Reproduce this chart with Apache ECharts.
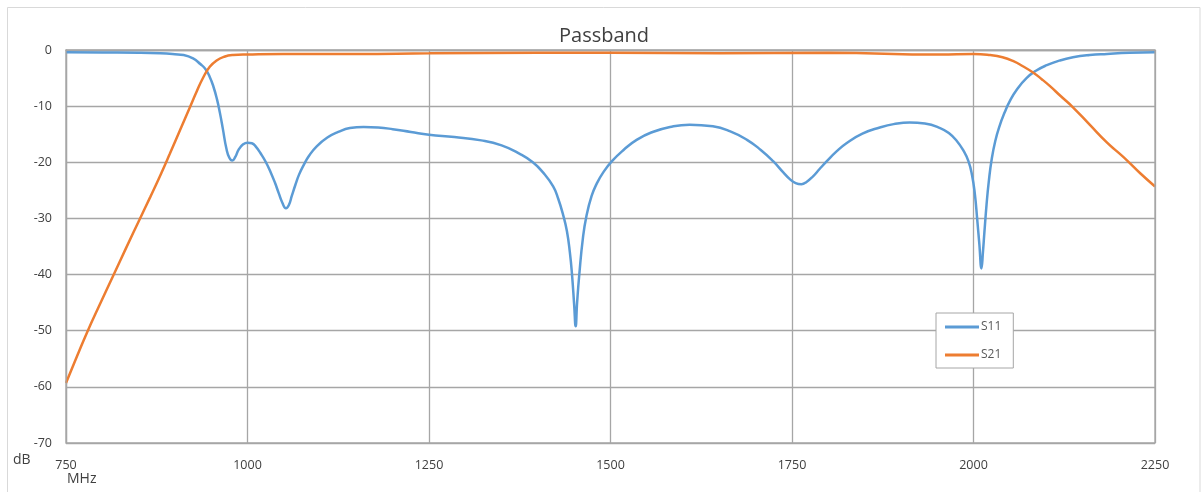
<!DOCTYPE html>
<html>
<head>
<meta charset="utf-8">
<script src="https://cdn.jsdelivr.net/npm/echarts@6/dist/echarts.min.js"></script>
<style>
html,body{margin:0;padding:0;background:#fff;}
#c{width:1204px;height:492px;}
</style>
</head>
<body>
<div id="c"></div>
<script>
// ---- data ----
var title = 'Passband';
var xTicks = [750, 1000, 1250, 1500, 1750, 2000, 2250];
var yTicks = [0, -10, -20, -30, -40, -50, -60, -70];

var s11Freq = [750, 800, 850, 880, 900, 912, 925, 935, 942, 948, 953, 958, 962, 966, 971, 975, 979, 983, 988, 994, 1000, 1006, 1012, 1018, 1025, 1032, 1038, 1043, 1048, 1053, 1057, 1061, 1066, 1071, 1077, 1085, 1095, 1110, 1125, 1141, 1160, 1180, 1200, 1225, 1250, 1285, 1322, 1350, 1375, 1393, 1407, 1421, 1428, 1435, 1440, 1444, 1447, 1450, 1452, 1454, 1457, 1462, 1467, 1474, 1481, 1490, 1502, 1518, 1536, 1558, 1582, 1609, 1641, 1665, 1688, 1707, 1724, 1738, 1747, 1755, 1763, 1770, 1779, 1788, 1798, 1811, 1825, 1847, 1871, 1890, 1912, 1933, 1954, 1966, 1977, 1986, 1993, 1998, 2002, 2005, 2008, 2011, 2013, 2015, 2018, 2021, 2025, 2030, 2036, 2043, 2050, 2060, 2073, 2086, 2101, 2118, 2137, 2160, 2184, 2215, 2250];
var s11Db   = [-0.4, -0.45, -0.5, -0.6, -0.75, -0.9, -1.5, -2.5, -3.4, -4.8, -6.5, -8.8, -11.2, -14.0, -17.6, -19.2, -19.7, -19.1, -17.7, -16.8, -16.5, -16.6, -17.3, -18.4, -19.9, -21.8, -23.7, -25.5, -27.2, -28.2, -27.6, -26.0, -24.0, -22.2, -20.6, -18.8, -17.2, -15.6, -14.6, -13.9, -13.7, -13.8, -14.1, -14.6, -15.1, -15.5, -16.1, -17.0, -18.5, -20.0, -21.8, -24.3, -26.5, -29.5, -32.3, -36.0, -40.0, -45.5, -49.2, -45.0, -40.0, -33.5, -29.5, -26.0, -23.8, -21.8, -19.8, -17.8, -16.0, -14.6, -13.7, -13.3, -13.6, -14.5, -16.0, -17.8, -19.8, -21.8, -23.0, -23.7, -23.9, -23.5, -22.5, -21.2, -19.8, -18.1, -16.6, -14.9, -13.8, -13.2, -12.9, -13.1, -13.9, -14.8, -16.2, -17.9, -19.8, -22.3, -25.8, -30.0, -34.5, -38.9, -36.0, -32.5, -27.5, -23.5, -19.5, -16.2, -13.5, -11.1, -9.1, -7.0, -5.0, -3.7, -2.7, -1.9, -1.3, -0.9, -0.7, -0.5, -0.4];

var s21Freq = [750, 765, 779, 797, 815, 833, 852, 866, 880, 893, 907, 921, 930, 939, 948, 957, 968, 980, 1000, 1049, 1150, 1250, 1400, 1500, 1650, 1800, 1954, 2000, 2023, 2040, 2055, 2068, 2082, 2094, 2105, 2120, 2137, 2160, 2184, 2198, 2211, 2230, 2250];
var s21Db   = [-59.3, -54.6, -50.3, -45.2, -40.2, -35.2, -30.0, -26.2, -22.3, -18.5, -14.3, -10.1, -7.4, -4.9, -3.0, -1.9, -1.2, -0.9, -0.8, -0.7, -0.7, -0.6, -0.5, -0.5, -0.6, -0.5, -0.8, -0.7, -0.9, -1.3, -2.0, -2.9, -4.0, -5.2, -6.4, -8.2, -10.2, -13.3, -16.5, -18.1, -19.6, -22.0, -24.3];

var seriesNames = ['S11', 'S21'];
var seriesColors = ['#5B9BD5', '#ED7D31'];

function pairs(xs, ys){ return xs.map(function(x,i){ return [x, ys[i]]; }); }

var chart = echarts.init(document.getElementById('c'), null, {renderer:'canvas'});
var txt = '#404040';
var gridCol = '#a6a6a6';
chart.setOption({
  animation:false,
  backgroundColor:'#ffffff',
  title:{
    text:title, left:554, top:21,
    textStyle:{fontFamily:'Open Sans', fontSize:20, fontWeight:'normal', color:'#404040'}
  },
  grid:{left:66, right:49, top:50, bottom:49, containLabel:false},
  legend:{
    orient:'vertical', left:936, top:313, itemGap:16,
    itemWidth:34, itemHeight:3, icon:'rect',
    backgroundColor:'#fff', borderColor:'#a6a6a6', borderWidth:1,
    padding:[8,12,7,9],
    textStyle:{fontFamily:'Open Sans', fontSize:12, color:'#595959', padding:[0,0,0,-3]},
    data:seriesNames
  },
  xAxis:{
    type:'value', min:750, max:2250, interval:250,
    axisLine:{show:true, lineStyle:{color:gridCol, width:1.3}},
    axisTick:{show:false},
    splitLine:{show:true, lineStyle:{color:gridCol, width:1.3}},
    axisLabel:{color:txt, fontFamily:'Open Sans', fontSize:12.5, margin:16,
      formatter:function(v){ return xTicks.indexOf(v)>=0 ? String(v) : ''; }}
  },
  yAxis:{
    type:'value', min:-70, max:0, interval:10,
    axisLine:{show:true, lineStyle:{color:gridCol, width:1.3}},
    axisTick:{show:false},
    splitLine:{show:true, lineStyle:{color:gridCol, width:1.3}},
    axisLabel:{color:txt, fontFamily:'Open Sans', fontSize:12.5, margin:14,
      formatter:function(v){ return yTicks.indexOf(v)>=0 ? String(v) : ''; }}
  },
  graphic:[
    {type:'rect', shape:{x:7.5, y:7.5, width:1192.5, height:490}, style:{fill:null, stroke:'#d9d9d9', lineWidth:1}, silent:true, z:-1},
    {type:'rect', shape:{x:66, y:50, width:1089, height:393}, style:{fill:null, stroke:gridCol, lineWidth:1.3}, silent:true, z:10},
    {type:'text', left:13, top:453, style:{text:'dB', fontFamily:'Open Sans', fontSize:14, fill:txt}},
    {type:'text', left:67, top:472, style:{text:'MHz', fontFamily:'Open Sans', fontSize:14, fill:txt}}
  ],
  series:[
    {name:seriesNames[0], type:'line', data:pairs(s11Freq, s11Db), smooth:0.5, showSymbol:false,
     lineStyle:{color:seriesColors[0], width:2.5}, itemStyle:{color:seriesColors[0]}, z:3},
    {name:seriesNames[1], type:'line', data:pairs(s21Freq, s21Db), smooth:0.5, showSymbol:false,
     lineStyle:{color:seriesColors[1], width:2.5}, itemStyle:{color:seriesColors[1]}, z:4}
  ]
});
</script>
</body>
</html>
